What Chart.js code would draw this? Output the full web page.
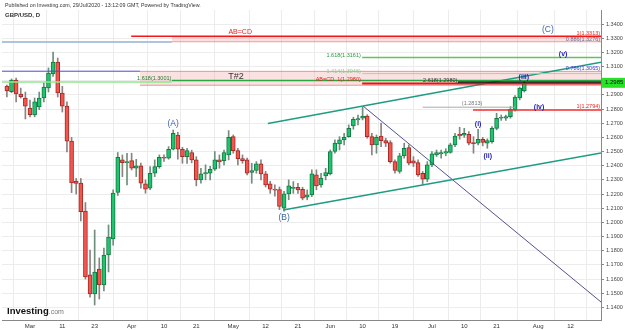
<!DOCTYPE html>
<html>
<head>
<meta charset="utf-8">
<script src="https://cdn.jsdelivr.net/npm/chart.js@4.4.1/dist/chart.umd.min.js"></script>
<style>
  html, body { margin: 0; padding: 0; background: #fff; }
</style>
</head>
<body>
<canvas id="chart" width="625" height="330"></canvas>
<script>
// trading day index (0 = 2 Mar 2020), first bar is 24 Feb
const firstDay = -5;
const opens = [1.2962,1.2922,1.3005,1.2906,1.2878,1.2807,1.2758,1.2815,1.2878,1.2949,1.3047,1.3132,1.2913,1.2821,1.2574,1.2292,1.2278,1.2080,1.1629,1.1495,1.1671,1.1558,1.1770,1.1883,1.2211,1.2441,1.2422,1.2436,1.2382,1.2399,1.2272,1.2241,1.2347,1.2394,1.2460,1.2453,1.2516,1.2617,1.2516,1.2464,1.2493,1.2441,1.2300,1.2342,1.2347,1.2375,1.2441,1.2436,1.2476,1.2605,1.2507,1.2450,1.2441,1.2352,1.2366,1.2413,1.2342,1.2272,1.2234,1.2232,1.2100,1.2201,1.2239,1.2248,1.2234,1.2178,1.2194,1.2335,1.2265,1.2328,1.2342,1.2500,1.2554,1.2582,1.2605,1.2681,1.2723,1.2735,1.2751,1.2605,1.2547,1.2610,1.2577,1.2564,1.2429,1.2359,1.2469,1.2528,1.2434,1.2422,1.2347,1.2305,1.2406,1.2476,1.2483,1.2488,1.2493,1.2547,1.2622,1.2615,1.2622,1.2564,1.2559,1.2587,1.2559,1.2570,1.2664,1.2735,1.2735,1.2746,1.2793,1.2878,1.2927];
const highs = [1.2969,1.3012,1.3019,1.2948,1.2920,1.2864,1.2878,1.2920,1.2985,1.3090,1.3202,1.3160,1.2960,1.2850,1.2600,1.2310,1.2310,1.2140,1.1805,1.1946,1.1749,1.1819,1.1982,1.2230,1.2493,1.2476,1.2488,1.2488,1.2445,1.2418,1.2300,1.2394,1.2441,1.2476,1.2476,1.2535,1.2652,1.2636,1.2530,1.2523,1.2510,1.2464,1.2382,1.2406,1.2395,1.2500,1.2476,1.2511,1.2648,1.2617,1.2523,1.2476,1.2453,1.2417,1.2429,1.2441,1.2360,1.2290,1.2265,1.2250,1.2220,1.2300,1.2288,1.2276,1.2248,1.2229,1.2371,1.2371,1.2347,1.2382,1.2511,1.2582,1.2605,1.2629,1.2688,1.2742,1.2758,1.2812,1.2760,1.2629,1.2617,1.2700,1.2594,1.2577,1.2441,1.2488,1.2559,1.2547,1.2464,1.2441,1.2359,1.2429,1.2500,1.2511,1.2511,1.2520,1.2559,1.2629,1.2671,1.2664,1.2641,1.2605,1.2657,1.2600,1.2590,1.2676,1.2770,1.2758,1.2758,1.2817,1.2895,1.2955,1.2998];
const lows = [1.2885,1.2915,1.2850,1.2877,1.2730,1.2744,1.2745,1.2795,1.2850,1.2920,1.3030,1.2885,1.2779,1.2497,1.2210,1.2200,1.2010,1.1600,1.1473,1.1417,1.1459,1.1516,1.1650,1.1840,1.2190,1.2323,1.2265,1.2370,1.2323,1.2241,1.2206,1.2230,1.2323,1.2382,1.2430,1.2446,1.2511,1.2446,1.2417,1.2417,1.2420,1.2258,1.2276,1.2300,1.2300,1.2366,1.2382,1.2406,1.2441,1.2488,1.2406,1.2417,1.2335,1.2276,1.2347,1.2300,1.2250,1.2205,1.2185,1.2090,1.2080,1.2160,1.2205,1.2205,1.2159,1.2159,1.2182,1.2230,1.2248,1.2300,1.2335,1.2488,1.2511,1.2547,1.2601,1.2657,1.2688,1.2723,1.2594,1.2476,1.2488,1.2535,1.2535,1.2418,1.2347,1.2347,1.2453,1.2406,1.2394,1.2324,1.2265,1.2288,1.2394,1.2465,1.2453,1.2470,1.2488,1.2535,1.2587,1.2600,1.2547,1.2488,1.2547,1.2540,1.2523,1.2559,1.2653,1.2720,1.2720,1.2735,1.2785,1.2865,1.2920];
const closes = [1.2927,1.3005,1.2906,1.2887,1.2821,1.2760,1.2850,1.2878,1.2955,1.3054,1.3132,1.2913,1.2821,1.2574,1.2278,1.2275,1.2075,1.1615,1.1495,1.1650,1.1558,1.1770,1.1897,1.2206,1.2460,1.2422,1.2429,1.2382,1.2399,1.2276,1.2234,1.2347,1.2394,1.2460,1.2453,1.2516,1.2629,1.2516,1.2464,1.2507,1.2441,1.2300,1.2342,1.2352,1.2375,1.2441,1.2427,1.2493,1.2601,1.2507,1.2450,1.2436,1.2347,1.2366,1.2413,1.2342,1.2265,1.2234,1.2228,1.2112,1.2201,1.2258,1.2248,1.2229,1.2171,1.2194,1.2342,1.2258,1.2312,1.2352,1.2500,1.2559,1.2582,1.2601,1.2664,1.2728,1.2732,1.2751,1.2605,1.2547,1.2601,1.2577,1.2559,1.2429,1.2366,1.2469,1.2523,1.2418,1.2418,1.2335,1.2305,1.2406,1.2483,1.2493,1.2493,1.2500,1.2547,1.2610,1.2610,1.2629,1.2559,1.2556,1.2587,1.2564,1.2577,1.2664,1.2735,1.2742,1.2746,1.2798,1.2885,1.2948,1.2985];

const tickDays = [0, 7, 14, 22, 29, 36, 44, 51, 58, 65, 72, 79, 87, 94, 101, 110, 117];
const tickLabels = ['Mar', '11', '23', 'Apr', '10', '21', 'May', '12', '21', 'Jun', '10', '19', 'Jul', '10', '21', 'Aug', '12'];
const priceTicks = [1.14, 1.15, 1.16, 1.17, 1.18, 1.19, 1.20, 1.21, 1.22, 1.23, 1.24, 1.25, 1.26, 1.27, 1.28, 1.29, 1.30, 1.31, 1.32, 1.33, 1.34];

// drawn levels: [from day, to day, price]
const abcdTop = [21.9, 123.6, 1.3314];
const oldHigh = [-6.1, 30.7, 1.3274];
const fib1618Top = [71.9, 123.6, 1.3163];
const fib786Left = [-6.1, 23.8, 1.3067];
const fib1414 = [71.9, 123.6, 1.3050];
const fib1618Left = [-6.1, 30.7, 1.2990];
const fib1618Right = [30.7, 123.6, 1.3001];
const abcdLow = [71.9, 123.6, 1.2981];
const fib2618 = [92.6, 123.6, 1.2991];
const waveOne = [85, 105, 1.2813];
const waveLevel = [95.9, 123.6, 1.2794];
// zones: [from day, to day, top, bottom]
const zone886 = [30.7, 123.6, 1.3310, 1.3275];
const zoneT2 = [23.8, 123.6, 1.3066, 1.2968];
// trend lines: [day, price, day, price]
const channelTop = [51.5, 1.2698, 123.6, 1.3131];
const channelBottom = [54.8, 1.2087, 123.6, 1.2490];
const fallLine = [72.1, 1.2821, 123.6, 1.1438];

// text notes: [text, day, price, style]
const notes = [
  ['AB=CD', 45.5, 1.3344, 'redBig'],
  ['1(1.3313)', 123.4, 1.3336, 'redR'],
  ['0.886(1.3276)', 123.4, 1.3291, 'greyR'],
  ['(C)', 112.1, 1.3358, 'abc'],
  ['1.618(1.3161)', 71.6, 1.3181, 'greenR'],
  ['(v)', 115.4, 1.3188, 'wave'],
  ['0.786(1.3065)', 123.4, 1.3089, 'blueR'],
  ['1.414(1.3046)', 71.6, 1.3068, 'paleR'],
  ['T#2', 44.6, 1.3026, 'box'],
  ['AB=CD  1(1.2980)', 71.6, 1.3012, 'redR'],
  ['1.618(1.3001)', 30.6, 1.3019, 'dgreenR'],
  ['2.618(1.2980)', 92.5, 1.3005, 'blackR'],
  ['(iii)', 106.9, 1.3026, 'wave'],
  ['(1.2813)', 95.7, 1.2836, 'grey'],
  ['1(1.2794)', 123.4, 1.2821, 'redR'],
  ['(iv)', 110.2, 1.2814, 'wave'],
  ['(A)', 31, 1.2694, 'abc'],
  ['(B)', 55, 1.2031, 'abc'],
  ['(i)', 97, 1.2694, 'wave'],
  ['(ii)', 99.1, 1.2468, 'wave']
];

const FONT = '"Liberation Sans", Arial, sans-serif';
const noteStyles = {
  redBig: { color: '#e8241e', size: 7, align: 'center' },
  redR: { color: '#e8241e', size: 5.5, align: 'right' },
  greyR: { color: '#6a6a8a', size: 5.5, align: 'right' },
  grey: { color: '#777', size: 5.5, align: 'center' },
  greenR: { color: '#2a9a3a', size: 5.5, align: 'right' },
  dgreenR: { color: '#1f7a2a', size: 5.5, align: 'right' },
  paleR: { color: '#8fc89a', size: 5.5, align: 'right' },
  blueR: { color: '#3a3ac8', size: 5.5, align: 'right' },
  blackR: { color: '#333', size: 5.5, align: 'right' },
  box: { color: '#333', size: 9, align: 'center' },
  abc: { color: '#3b68a8', size: 8.5, align: 'center' },
  wave: { color: '#1c1cb4', size: 7, align: 'center', bold: true }
};

const days = opens.map((_, i) => firstDay + i);
const up = opens.map((o, i) => closes[i] >= o);

const seg = (a, color, width) => ({
  type: 'line',
  data: [{ x: a[0], y: a[2] }, { x: a[1], y: a[2] }],
  borderColor: color, borderWidth: width, pointRadius: 0, fill: false, order: 0
});
const trend = (a, color, width) => ({
  type: 'line',
  data: [{ x: a[0], y: a[1] }, { x: a[2], y: a[3] }],
  borderColor: color, borderWidth: width, pointRadius: 0, fill: false, order: 0
});
const zone = (a, fillColor, edge) => [
  { type: 'line', data: [{ x: a[0], y: a[2] }, { x: a[1], y: a[2] }], borderColor: edge, borderWidth: 1,
    backgroundColor: fillColor, pointRadius: 0, fill: '+1', order: 4 },
  { type: 'line', data: [{ x: a[0], y: a[3] }, { x: a[1], y: a[3] }], borderColor: edge, borderWidth: 1,
    pointRadius: 0, fill: false, order: 4 }
];

const datasets = [
  ...zone(zone886, 'rgba(240,140,140,0.28)', 'rgba(232,140,140,0.8)'),
  ...zone(zoneT2, 'rgba(240,140,140,0.25)', 'rgba(232,130,130,0.85)'),
  {
    type: 'bar', label: 'wick',
    data: days.map((d, i) => ({ x: d, y: [lows[i], highs[i]] })),
    backgroundColor: up.map(u => u ? '#6f8f7c' : '#8f8080'),
    barThickness: 1, grouped: false, order: 3
  },
  {
    type: 'bar', label: 'body',
    data: days.map((d, i) => ({ x: d, y: [opens[i], closes[i]] })),
    backgroundColor: up.map(u => u ? '#1fc46e' : '#f4554d'),
    borderColor: up.map(u => u ? '#137a43' : '#a52a25'),
    borderWidth: 1, borderSkipped: false,
    barThickness: 4, grouped: false, order: 2
  },
  seg(abcdTop, '#f01818', 1.5),
  seg(oldHigh, '#aec3dc', 2),
  seg(fib1618Top, '#5cc65c', 1.5),
  seg(fib786Left, '#4a4ad0', 1),
  seg(fib1414, '#9fd8a2', 1),
  seg(fib1618Left, '#8ee88e', 1.5),
  seg(fib1618Right, '#27a845', 1.5),
  seg(fib2618, '#111', 1.5),
  seg(abcdLow, '#ee1010', 2),
  seg(waveOne, '#aaa', 1),
  seg(waveLevel, '#f03030', 1.5),
  trend(channelTop, '#1d9c82', 1.5),
  trend(channelBottom, '#1d9c82', 1.5),
  trend(fallLine, '#55528c', 1)
];

const extras = {
  id: 'extras',
  afterDatasetsDraw(chart) {
    const { ctx, scales: { x, y } } = chart;
    ctx.save();
    ctx.textBaseline = 'middle';
    notes.forEach(([text, day, price, key]) => {
      const s = noteStyles[key];
      ctx.font = (s.bold ? 'bold ' : '') + s.size + 'px ' + FONT;
      ctx.fillStyle = s.color;
      ctx.textAlign = s.align;
      ctx.fillText(text, x.getPixelForValue(day), y.getPixelForValue(price));
    });
    ctx.restore();
  },
  afterDraw(chart) {
    const { ctx, chartArea, scales: { y } } = chart;
    ctx.save();
    // header
    ctx.fillStyle = '#333';
    ctx.textBaseline = 'middle';
    ctx.textAlign = 'left';
    ctx.font = '5.3px ' + FONT;
    ctx.fillText('Published on Investing.com, 29/Jul/2020 - 13:12:09 GMT, Powered by TradingView.', 5, 6);
    ctx.font = 'bold 6px ' + FONT;
    ctx.fillText('GBP/USD, D', 5, 15);
    // last price tag
    const last = closes[closes.length - 1];
    const py = y.getPixelForValue(last);
    ctx.fillStyle = '#27e227';
    ctx.fillRect(chartArea.right + 1, py - 5, 24, 10);
    ctx.fillStyle = '#111';
    ctx.font = '6px ' + FONT;
    ctx.fillText(last.toFixed(4), chartArea.right + 4, py);
    // logo
    ctx.fillStyle = '#111';
    ctx.font = 'bold 9.5px ' + FONT;
    ctx.fillText('Investing', 7, 311);
    const w = ctx.measureText('Investing').width;
    ctx.fillStyle = '#777';
    ctx.font = '7px ' + FONT;
    ctx.fillText('.com', 7 + w, 312);
    ctx.restore();
  }
};

new Chart(document.getElementById('chart'), {
  type: 'bar',
  data: { datasets },
  options: {
    responsive: false,
    animation: false,
    layout: { padding: { left: 2, top: 10, right: 0, bottom: 0 } },
    plugins: { legend: { display: false }, tooltip: { enabled: false } },
    scales: {
      x: {
        type: 'linear', offset: false, min: -6.06, max: 123.6,
        afterBuildTicks: s => { s.ticks = tickDays.map(v => ({ value: v })); },
        afterFit: s => { s.height = 10; },
        ticks: {
          autoSkip: false, maxRotation: 0, padding: 3,
          font: { size: 6, family: FONT }, color: '#333',
          callback: v => tickLabels[tickDays.indexOf(v)]
        },
        grid: { color: '#ececec', drawTicks: false },
        border: { color: '#888' }
      },
      y: {
        position: 'right', min: 1.1311, max: 1.3499,
        afterBuildTicks: s => { s.ticks = priceTicks.map(v => ({ value: v })); },
        afterFit: s => { s.width = 24; },
        ticks: {
          padding: 2, font: { size: 5.5, family: FONT }, color: '#444',
          callback: v => v.toFixed(4)
        },
        grid: { color: '#ececec', tickLength: 3, tickColor: '#888' },
        border: { color: '#888' }
      }
    }
  },
  plugins: [extras]
});
</script>
</body>
</html>
